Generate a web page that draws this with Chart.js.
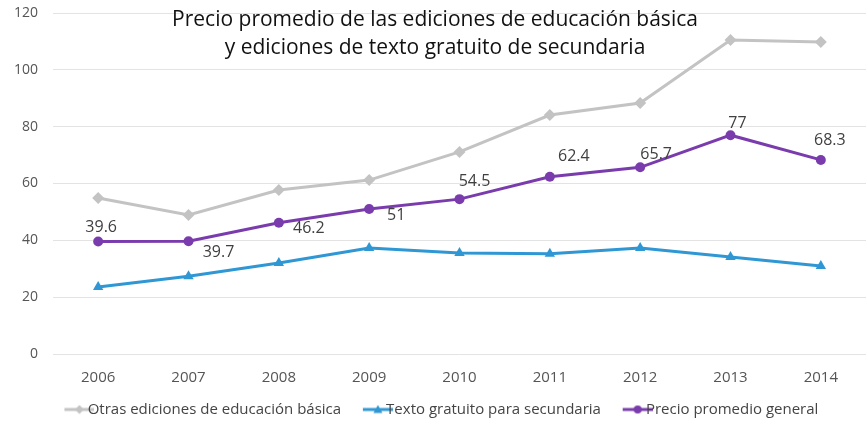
<!DOCTYPE html>
<html lang="es">
<head>
<meta charset="utf-8">
<title>Precio promedio de las ediciones</title>
<script src="https://cdn.jsdelivr.net/npm/chart.js@4.4.1/dist/chart.umd.min.js"></script>
<style>
  html, body { margin: 0; padding: 0; background: #fff; }
  #wrap { width: 866px; height: 421px; position: relative; }
</style>
</head>
<body>
<div id="wrap"><canvas id="chart"></canvas></div>
<script>
// Data
const years = ['2006', '2007', '2008', '2009', '2010', '2011', '2012', '2013', '2014'];
const otrasEdiciones = [54.9, 48.9, 57.7, 61.2, 71.1, 84.1, 88.3, 110.5, 109.8];
const textoGratuito = [23.6, 27.4, 32.0, 37.3, 35.5, 35.3, 37.3, 34.1, 31.0];
const precioGeneral = [39.6, 39.7, 46.2, 51, 54.5, 62.4, 65.7, 77, 68.3];
const seriesNames = ['Otras ediciones de educación básica', 'Texto gratuito para secundaria', 'Precio promedio general'];
const titleLines = ['Precio promedio de las ediciones de educación básica', 'y ediciones de texto gratuito de secundaria'];
const yTicks = [0, 20, 40, 60, 80, 100, 120];

// where each purple label sits relative to its point (px)
const labelOffsets = [[3, -14], [30, 11], [30, 6], [27, 6], [15, -18], [24, -20], [16, -13], [7, -12], [9, -19]];

const FONT = '"Open Sans", "Noto Sans", sans-serif';
const GRAY = '#c3c3c3', BLUE = '#2f97d4', PURPLE = '#7a3cad';
const LEGEND_SHIFT = { x: 1, y: 6 };

// Helpers
const $ = (s, r = document) => r.querySelector(s);

/* ---------- legend swatch: short line with marker (right 30px of the image) ---------- */
function swatch(color, style) {
  const c = document.createElement('canvas');
  c.width = 57; c.height = 14;
  const x = c.getContext('2d');
  x.translate(27, 0);
  x.strokeStyle = color; x.fillStyle = color; x.lineWidth = 3;
  x.beginPath(); x.moveTo(0, 7); x.lineTo(30, 7); x.stroke();
  x.beginPath();
  if (style === 'diamond') { x.moveTo(15, 2.5); x.lineTo(19.5, 7); x.lineTo(15, 11.5); x.lineTo(10.5, 7); }
  else if (style === 'triangle') { x.moveTo(15, 2.5); x.lineTo(19.5, 10.5); x.lineTo(10.5, 10.5); }
  else x.arc(15, 7, 4, 0, Math.PI * 2);
  x.closePath(); x.fill();
  return c;
}

/* ---------- plugins ---------- */
const legendNudge = {
  id: 'legendNudge',
  afterLayout(chart) {
    const l = chart.legend;
    if (!l) return;
    l.left += LEGEND_SHIFT.x; l.right += LEGEND_SHIFT.x;
    l.top += LEGEND_SHIFT.y; l.bottom += LEGEND_SHIFT.y;
  }
};

const titleOverlay = {
  id: 'titleOverlay',
  afterDraw(chart) {
    const ctx = chart.ctx;
    ctx.save();
    ctx.font = `21px ${FONT}`;
    ctx.fillStyle = '#111';
    ctx.textAlign = 'center';
    ctx.textBaseline = 'middle';
    titleLines.forEach((t, i) => ctx.fillText(t, 435, 20 + i * 28));
    ctx.restore();
  }
};

const pointLabels = {
  id: 'pointLabels',
  afterDatasetsDraw(chart) {
    const ctx = chart.ctx;
    const meta = chart.getDatasetMeta(2);
    ctx.save();
    ctx.font = `16px ${FONT}`;
    ctx.fillStyle = '#404040';
    ctx.textAlign = 'center';
    ctx.textBaseline = 'middle';
    meta.data.forEach((pt, i) => {
      const [dx, dy] = labelOffsets[i];
      ctx.fillText(String(precioGeneral[i]), pt.x + dx, pt.y + dy);
    });
    ctx.restore();
  }
};

/* ---------- chart ---------- */
const line = (label, data, color, pointStyle, radius) => ({
  label, data,
  borderColor: color, backgroundColor: color,
  borderWidth: 3, pointStyle, pointRadius: radius, pointHoverRadius: radius,
  pointBorderWidth: 0, tension: 0, clip: false
});

new Chart($('#chart'), {
  type: 'line',
  data: {
    labels: years,
    datasets: [
      line(seriesNames[0], otrasEdiciones, GRAY, 'rectRot', 6),
      line(seriesNames[1], textoGratuito, BLUE, 'triangle', 6),
      line(seriesNames[2], precioGeneral, PURPLE, 'circle', 5)
    ]
  },
  options: {
    responsive: true,
    maintainAspectRatio: false,
    animation: false,
    layout: { autoPadding: false, padding: { top: 13, right: -2, left: 0, bottom: 0 } },
    scales: {
      x: {
        offset: true,
        grid: { display: false, drawTicks: false },
        border: { display: false },
        ticks: { color: '#555', font: { family: FONT, size: 15 }, padding: 15 },
        afterFit: (s) => { s.height = 33; }
      },
      y: {
        min: 0, max: 120,
        afterBuildTicks: (s) => { s.ticks = yTicks.map(v => ({ value: v })); },
        grid: { color: '#e3e3e3', lineWidth: 1, drawTicks: false },
        border: { display: false },
        ticks: { color: '#555', font: { family: FONT, size: 14 }, padding: 15 },
        afterFit: (s) => { s.width = 53; s.paddingTop = 0; s.paddingBottom = 0; }
      }
    },
    plugins: {
      tooltip: { enabled: false },
      legend: {
        position: 'bottom',
        labels: {
          usePointStyle: true,
          pointStyleWidth: 28.5,
          boxHeight: 14,
          padding: 9,
          color: '#444',
          font: { family: FONT, size: 15 },
          generateLabels: (chart) => chart.data.datasets.map((d, i) => ({
            text: d.label,
            datasetIndex: i,
            pointStyle: swatch(d.borderColor, ['diamond', 'triangle', 'circle'][i]),
            fillStyle: d.borderColor, strokeStyle: d.borderColor, lineWidth: 0,
            fontColor: '#444'
          }))
        }
      }
    }
  },
  plugins: [legendNudge, titleOverlay, pointLabels]
});
</script>
</body>
</html>
